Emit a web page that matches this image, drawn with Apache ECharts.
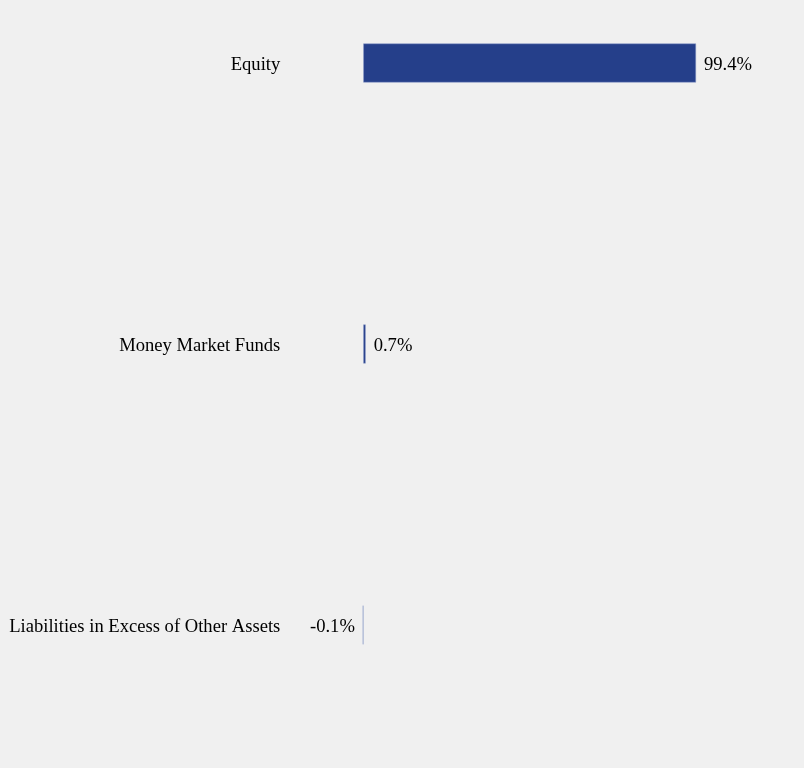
<!DOCTYPE html>
<html>
<head>
<meta charset="utf-8">
<style>
html,body{margin:0;padding:0;background:#f0f0f0;}
#chart{width:804px;height:768px;}
</style>
<script src="https://cdn.jsdelivr.net/npm/echarts@6/dist/echarts.min.js"></script>
</head>
<body>
<div id="chart"></div>
<script>
const categories = ["Equity", "Money Market Funds", "Liabilities in Excess of Other Assets"];
const values = [99.4, 0.7, -0.1];
const valueLabels = ["99.4%", "0.7%", "-0.1%"];

const chart = echarts.init(document.getElementById('chart'));
chart.setOption({
  backgroundColor: '#f0f0f0',
  animation: false,
  grid: { left: 363.3, right: 106, top: 63, bottom: 143, containLabel: false },
  xAxis: {
    type: 'value', min: 0, max: 100,
    show: false
  },
  yAxis: {
    type: 'category', data: categories, inverse: true, boundaryGap: false,
    axisLine: { show: false }, axisTick: { show: false }, splitLine: { show: false },
    axisLabel: {
      margin: 83, color: '#000', fontFamily: 'Liberation Serif', fontSize: 18.6,
      formatter: v => '{a|' + v + '}',
      rich: { a: { color: '#000', fontFamily: 'Liberation Serif', fontSize: 18.6, padding: [5, 0, 0, 0] } }
    }
  },
  series: [{
    type: 'bar',
    clip: false,
    barWidth: 39,
    data: values.map((v, i) => ({
      value: v,
      label: { position: v < 0 ? 'left' : 'right' }
    })),
    itemStyle: { color: '#253f8a', borderColor: '#8a9ac8', borderWidth: 0.5 },
    label: {
      show: true, distance: 8, color: '#000', offset: [0, 2.5],
      fontFamily: 'Liberation Serif', fontSize: 18.6,
      formatter: p => valueLabels[p.dataIndex]
    }
  }]
});
</script>
</body>
</html>
